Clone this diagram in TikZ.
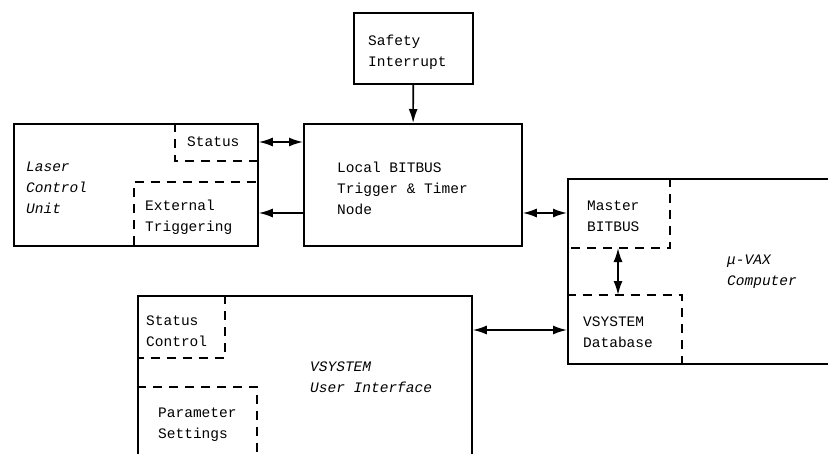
\documentclass[tikz,border=0pt]{standalone}
\usepackage{fontspec}
\setmonofont{Liberation Mono}
\usepackage{tikz}
\usetikzlibrary{arrows.meta,positioning,calc}

\begin{document}
\begin{tikzpicture}[x=1pt,y=-1pt,
  blk/.style={draw,line width=1.8pt,inner sep=0pt,anchor=north west},
  lbl/.style={align=left,anchor=west,inner sep=0pt,font=\ttfamily\fontsize{14.5}{21}\selectfont},
  ilbl/.style={lbl,font=\ttfamily\itshape\fontsize{14.5}{21}\selectfont},
  part/.style={line width=1.6pt,dash pattern=on 9pt off 7pt},
  link/.style={line width=1.6pt,-{Latex[length=14pt,width=9pt]}},
  dlink/.style={line width=1.6pt,{Latex[length=14pt,width=9pt]}-{Latex[length=14pt,width=9pt]}}]
\useasboundingbox (0,0) rectangle (828,453);
\clip (0,0) rectangle (828,453);
% boxes
\node[blk,minimum width=119pt,minimum height=71pt] (safety) at (353,12) {};
\node[blk,minimum width=244pt,minimum height=122pt] (laser) at (13,123) {};
\node[blk,minimum width=218pt,minimum height=122pt] (local) at (303,123) {};
\node[blk,minimum width=280pt,minimum height=185pt] (vax) at (567,178) {};
\node[blk,minimum width=334pt,minimum height=180pt] (ui) at (137,295) {};
% sub-blocks
\draw[part] (175,123) -- (175,161) -- (257,161);
\draw[part] (134,245) -- (134,182) -- (257,182);
\draw[part] (670,178) -- (670,248) -- (567,248);
\draw[part] (567,295) -- (682,295) -- (682,363);
\draw[part] (225,295) -- (225,358) -- (137,358);
\draw[part] (137,387) -- (257,387) -- (257,453);
% labels
\node[lbl] (tsafety) at (368,52) {Safety\\Interrupt};
\node[ilbl] (tlaser) at (26,188) {Laser\\Control\\Unit};
\node[lbl] (tstat) at (187,142) {Status};
\node[lbl] (text) at (145,217) {External\\Triggering};
\node[lbl] (tlocal) at (337,188) {Local BITBUS\\Trigger \& Timer\\Node};
\node[lbl] (tmaster) at (587,216) {Master\\BITBUS};
\node[ilbl] (tvax) at (727,272) {μ-VAX\\Computer};
\node[lbl] (tdb) at (583,332) {VSYSTEM\\Database};
\node[lbl] (tsc) at (146,331) {Status\\Control};
\node[ilbl] (tui) at (310,377) {VSYSTEM\\User Interface};
\node[lbl] (tpar) at (158,425) {Parameter\\Settings};
% connections
\coordinate (mb) at (618,248);
\coordinate (db) at (618,295);
\draw[link] (safety) -- (local);
\draw[dlink] (laser.east |- tstat) -- (local.west |- tstat);
\draw[link] ([yshift=4pt]local.west |- text) -- ([yshift=4pt]laser.east |- text);
\draw[dlink] ([yshift=3pt]local.east |- tmaster) -- ([yshift=3pt]vax.west |- tmaster);
\draw[dlink] (mb) -- (db);
\draw[dlink] ([yshift=2pt]ui.east |- tdb) -- ([yshift=2pt]vax.west |- tdb);
\end{tikzpicture}
\end{document}
